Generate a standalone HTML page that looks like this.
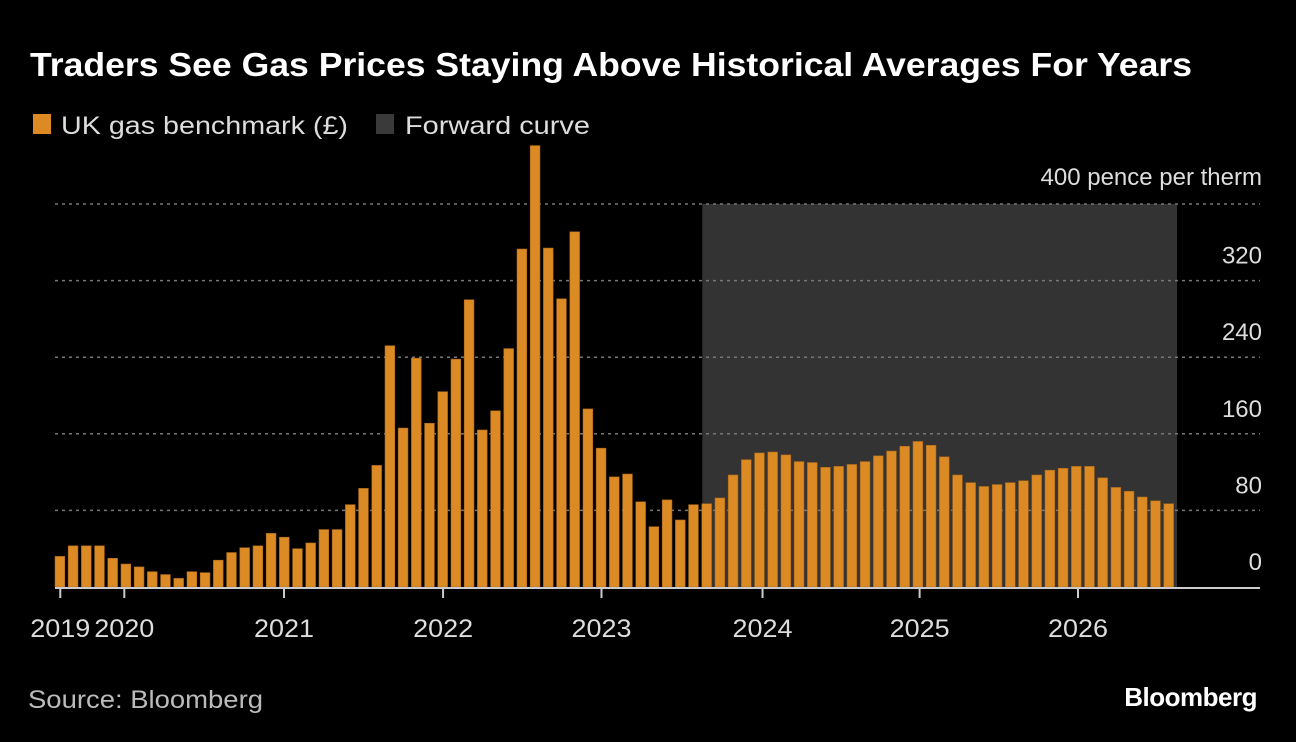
<!DOCTYPE html>
<html><head><meta charset="utf-8">
<style>
html,body{margin:0;padding:0;background:#000;}
svg{display:block;font-family:"Liberation Sans",sans-serif;}
</style></head>
<body>
<svg width="1296" height="742" viewBox="0 0 1296 742">
<rect x="0" y="0" width="1296" height="742" fill="#000"/>
<text x="30" y="76" fill="#fff" font-size="33" font-weight="bold" textLength="1162" lengthAdjust="spacingAndGlyphs">Traders See Gas Prices Staying Above Historical Averages For Years</text>
<g>
<g>
<rect x="33" y="114" width="18" height="20" fill="#dc8b24"/>
<text x="61" y="134" fill="#ddd" font-size="25" textLength="287" lengthAdjust="spacingAndGlyphs">UK gas benchmark (£)</text>
</g>
<g>
<rect x="376" y="114" width="18" height="20" fill="#3a3a3a"/>
<text x="405" y="134" fill="#ddd" font-size="25" textLength="185" lengthAdjust="spacingAndGlyphs">Forward curve</text>
</g>
</g>
<g id="plot"></g>
<text x="28" y="708" fill="#bbb" font-size="25" textLength="235" lengthAdjust="spacingAndGlyphs">Source: Bloomberg</text>
<text x="1257" y="706" fill="#fff" font-size="26" font-weight="bold" text-anchor="end" letter-spacing="-0.5">Bloomberg</text>
</svg>
<script>
const values = [32,43,43,43,30,24,21,16,13,9,16,15,28,36,41,43,56,52,40,46,60,60,86,103,127,252,166,239,171,204,238,300,164,184,249,353,461,354,301,371,186,145,115,118,89,63,91,70,86,87,93,117,133,140,141,138,131,130,125,126,128,131,137,142,147,152,148,136,117,109,105,107,109,111,117,122,124,126,126,114,104,100,94,90,87];
const forwardStartIndex = 49;
const yTicks = [0,80,160,240,320,400];
const yearLabels = ["2019","2020","2021","2022","2023","2024","2025","2026"];
const yearMonthIndex = [0.4,5.25,17.35,29.4,41.4,53.6,65.5,77.5];

const NS = "http://www.w3.org/2000/svg";
const plot = document.getElementById("plot");
const X0 = 55, X1 = 1177, Y0 = 587, Y400 = 204;
const pitch = (X1 - X0) / values.length;
const barW = pitch * 0.74;
function xScale(i){ return X0 + i * pitch; }
function yScale(v){ return Y0 - v * (Y0 - Y400) / 400; }
function mk(tag, attrs){ const e = document.createElementNS(NS, tag); for (const k in attrs) e.setAttribute(k, attrs[k]); plot.appendChild(e); return e; }

const sx = xScale(forwardStartIndex) + 0.5;
const shade = mk("rect", {x: sx, y: yScale(400), width: X1 - sx, height: Y0 - yScale(400), fill: "#333"});



yTicks.forEach(t => {
  if (t > 0) {
    const g = mk("line", {x1: 55, x2: 1260, y1: yScale(t), y2: yScale(t), stroke: "#777", "stroke-width": 1.5, "stroke-dasharray": "3,4"});
    
    
  }
  const lbl = mk("text", {x: 1262, y: yScale(t) - (t === 400 ? 19 : 17), fill: "#ddd", "font-size": 24, "text-anchor": "end"});
  lbl.textContent = t === 400 ? "400 pence per therm" : String(t);
  
  
});

values.forEach((v, i) => {
  const b = mk("rect", {x: xScale(i), y: yScale(v), width: barW, height: Y0 - yScale(v), fill: "#dc8b24", stroke: "#a8661a", "stroke-width": 0.6});
  
  
});

const axis = mk("line", {x1: 55, x2: 1260, y1: Y0 + 1, y2: Y0 + 1, stroke: "#ccc", "stroke-width": 2});



yearLabels.forEach((lab, k) => {
  const x = xScale(yearMonthIndex[k]);
  const tk = mk("line", {x1: x, x2: x, y1: Y0, y2: Y0 + 11, stroke: "#ccc", "stroke-width": 2});
  
  
  const t = mk("text", {x: x, y: Y0 + 50, fill: "#ddd", "font-size": 25, "text-anchor": "middle", textLength: 60, lengthAdjust: "spacingAndGlyphs"});
  t.textContent = lab;
  
  
});
</script>
</body></html>
